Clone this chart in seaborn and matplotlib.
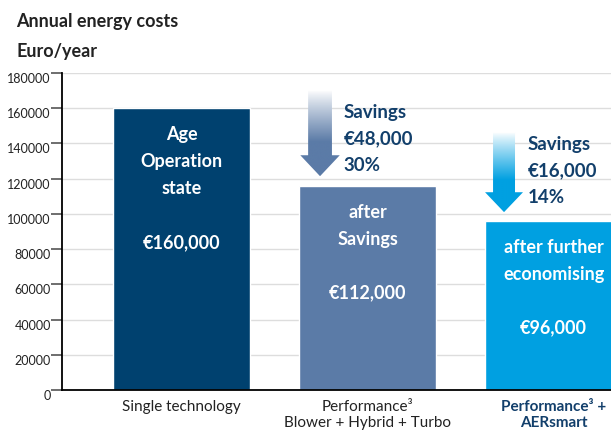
import numpy as np
import pandas as pd
import matplotlib.pyplot as plt
import seaborn as sns
from matplotlib.patches import Polygon

sns.set_theme(style='white')
plt.rcParams['font.family'] = ['Lato', 'DejaVu Sans']

# data
categories = ['Single technology', 'Performance³\nBlower + Hybrid + Turbo', 'Performance³ +\nAERsmart']
costs = [160000, 116000, 96000]
bar_colors = ['#00416f', '#5b7ba7', '#00a0e1']
bar_texts = [['Age', 'Operation', 'state', '', '€160,000'],
             ['after', 'Savings', '', '€112,000'],
             ['after further', 'economising', '', '€96,000']]
savings = [['Savings', '€48,000', '30%'], ['Savings', '€16,000', '14%']]
yticks = list(range(0, 180001, 20000))
navy = '#123f6b'

df = pd.DataFrame({'cat': categories, 'cost': costs})

fig = plt.figure(figsize=(6.11, 4.32), dpi=100)
ax = fig.add_axes([62/611, 42/432, 549/611, 317/432])

sns.barplot(data=df, x='cat', y='cost', hue='cat', palette=bar_colors,
            legend=False, width=0.737, saturation=1, ax=ax)

# text inside the bars
for i, lines in enumerate(bar_texts):
    y0 = costs[i] - 15000
    for j, t in enumerate(lines):
        ax.text(i, y0 - j * 15300, t, ha='center', va='center', color='white',
                fontsize=13, fontweight='bold')


# gradient arrows
def grad_arrow(xc, ytop, yhead, ytip, hws, hwh, color):
    pts = [(xc - hws, ytop), (xc + hws, ytop), (xc + hws, yhead), (xc + hwh, yhead),
           (xc, ytip), (xc - hwh, yhead), (xc - hws, yhead)]
    poly = Polygon(pts, closed=True, facecolor='none', edgecolor='none')
    ax.add_patch(poly)
    rgb = np.array(plt.matplotlib.colors.to_rgb(color))
    f = np.linspace(0, 1, 200)[:, None]
    a = np.clip(f / 0.6, 0, 1) ** 0.9
    img = (1 - a)[..., None] * np.ones(3) + a[..., None] * rgb
    img = np.repeat(img, 2, axis=1)
    im = ax.imshow(img, extent=[xc - hwh, xc + hwh, ytip, ytop], aspect='auto',
                   origin='upper', zorder=3)
    im.set_clip_path(poly)


grad_arrow(0.745, 170000, 133300, 121400, 0.064, 0.106, bar_colors[1])
grad_arrow(1.734, 146000, 112300, 101000, 0.059, 0.102, bar_colors[2])

for (x, ys), lines in zip([(0.87, 157500), (1.86, 139500)], savings):
    for j, t in enumerate(lines):
        ax.text(x, ys - j * 15000, t, ha='left', va='center', color=navy,
                fontsize=13.5, fontweight='bold')

ax.set_xlim(-0.642, 2.309)
ax.set_ylim(0, 180000)
ax.set_yticks(yticks)
ax.set_yticklabels([str(v) for v in yticks])
for lbl in ax.get_yticklabels():
    lbl.set_va('top')
ax.tick_params(axis='y', length=8, width=1.2, color='#555555', pad=0,
               labelsize=9, labelcolor='#222222', left=True)
ax.tick_params(axis='x', length=0, pad=7, labelsize=11, labelcolor='#222222')
ax.set_xlabel('')
ax.set_ylabel('')
ax.yaxis.grid(True, color='#dddddd', lw=1)
ax.set_axisbelow(True)
for s in ['top', 'right']:
    ax.spines[s].set_visible(False)
for s in ['left', 'bottom']:
    ax.spines[s].set_color('black')
    ax.spines[s].set_linewidth(1.3)

xl = ax.get_xticklabels()
xl[2].set_color(navy)
xl[2].set_fontweight('bold')

fig.text(16/611, 1 - 22/432, 'Annual energy costs', fontsize=13, fontweight='bold',
         color='#222222', va='center')
fig.text(16/611, 1 - 52/432, 'Euro/year', fontsize=13, fontweight='bold',
         color='#222222', va='center')

fig.savefig('out.png', dpi=100)
